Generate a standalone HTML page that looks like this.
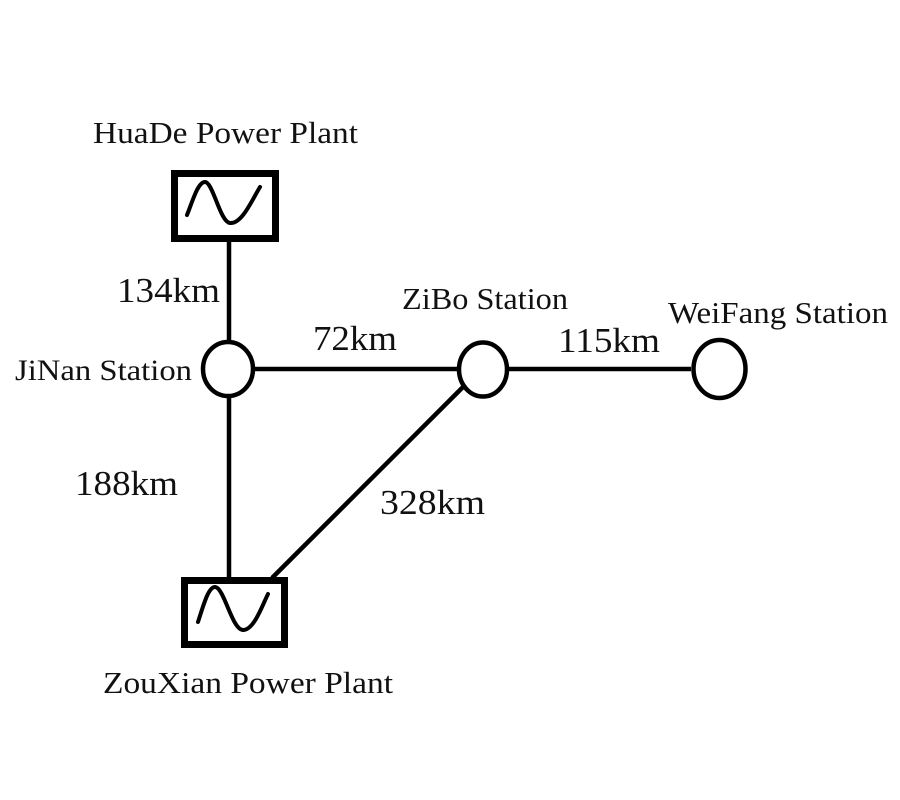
<!DOCTYPE html>
<html><head><meta charset="utf-8"><style>
html,body{margin:0;padding:0;background:#fff;}
svg{display:block;}
text{font-family:"Liberation Serif","Times New Roman",serif;fill:#111;}
</style></head><body>
<svg width="900" height="800" viewBox="0 0 900 800" xmlns="http://www.w3.org/2000/svg">
<g stroke="#000" stroke-width="4.5" fill="none">
  <!-- lines -->
  <line x1="229" y1="242" x2="229" y2="341"/>
  <line x1="229" y1="398" x2="229" y2="578"/>
  <line x1="254" y1="369" x2="457" y2="369"/>
  <line x1="508" y1="369" x2="691" y2="369"/>
  <line x1="463" y1="387" x2="272" y2="578"/>
  <!-- circles -->
  <ellipse cx="228" cy="369" rx="25" ry="27"/>
  <ellipse cx="483" cy="369.5" rx="24" ry="27"/>
  <ellipse cx="719.5" cy="369" rx="26" ry="29"/>
</g>
<g stroke="#000" stroke-width="7" fill="none">
  <rect x="174.5" y="173.5" width="101" height="65"/>
  <rect x="184.5" y="580.5" width="100" height="64"/>
</g>
<g stroke="#000" stroke-width="4" fill="none" stroke-linecap="round">
  <path d="M187,215 C193,200 198,182 205,182 C213,182 220,222 230,223 C242,224 252,200 260,187"/>
  <path d="M198,622 C203,607 208,587 215,587 C224,587 232,630 243,630 C254,630 262,606 268,594"/>
</g>
<text x="93" y="143" font-size="31" textLength="265" lengthAdjust="spacingAndGlyphs">HuaDe Power Plant</text>
<text x="117" y="302" font-size="35" textLength="103" lengthAdjust="spacingAndGlyphs">134km</text>
<text x="15" y="380" font-size="30" textLength="177" lengthAdjust="spacingAndGlyphs">JiNan Station</text>
<text x="313" y="350" font-size="35" textLength="84" lengthAdjust="spacingAndGlyphs">72km</text>
<text x="402" y="309" font-size="31" textLength="166" lengthAdjust="spacingAndGlyphs">ZiBo Station</text>
<text x="558" y="352" font-size="35" textLength="102" lengthAdjust="spacingAndGlyphs">115km</text>
<text x="668" y="323" font-size="31" textLength="220" lengthAdjust="spacingAndGlyphs">WeiFang Station</text>
<text x="75" y="495" font-size="35" textLength="103" lengthAdjust="spacingAndGlyphs">188km</text>
<text x="380" y="514" font-size="35" textLength="105" lengthAdjust="spacingAndGlyphs">328km</text>
<text x="103" y="693" font-size="31" textLength="290" lengthAdjust="spacingAndGlyphs">ZouXian Power Plant</text>
</svg>
</body></html>
